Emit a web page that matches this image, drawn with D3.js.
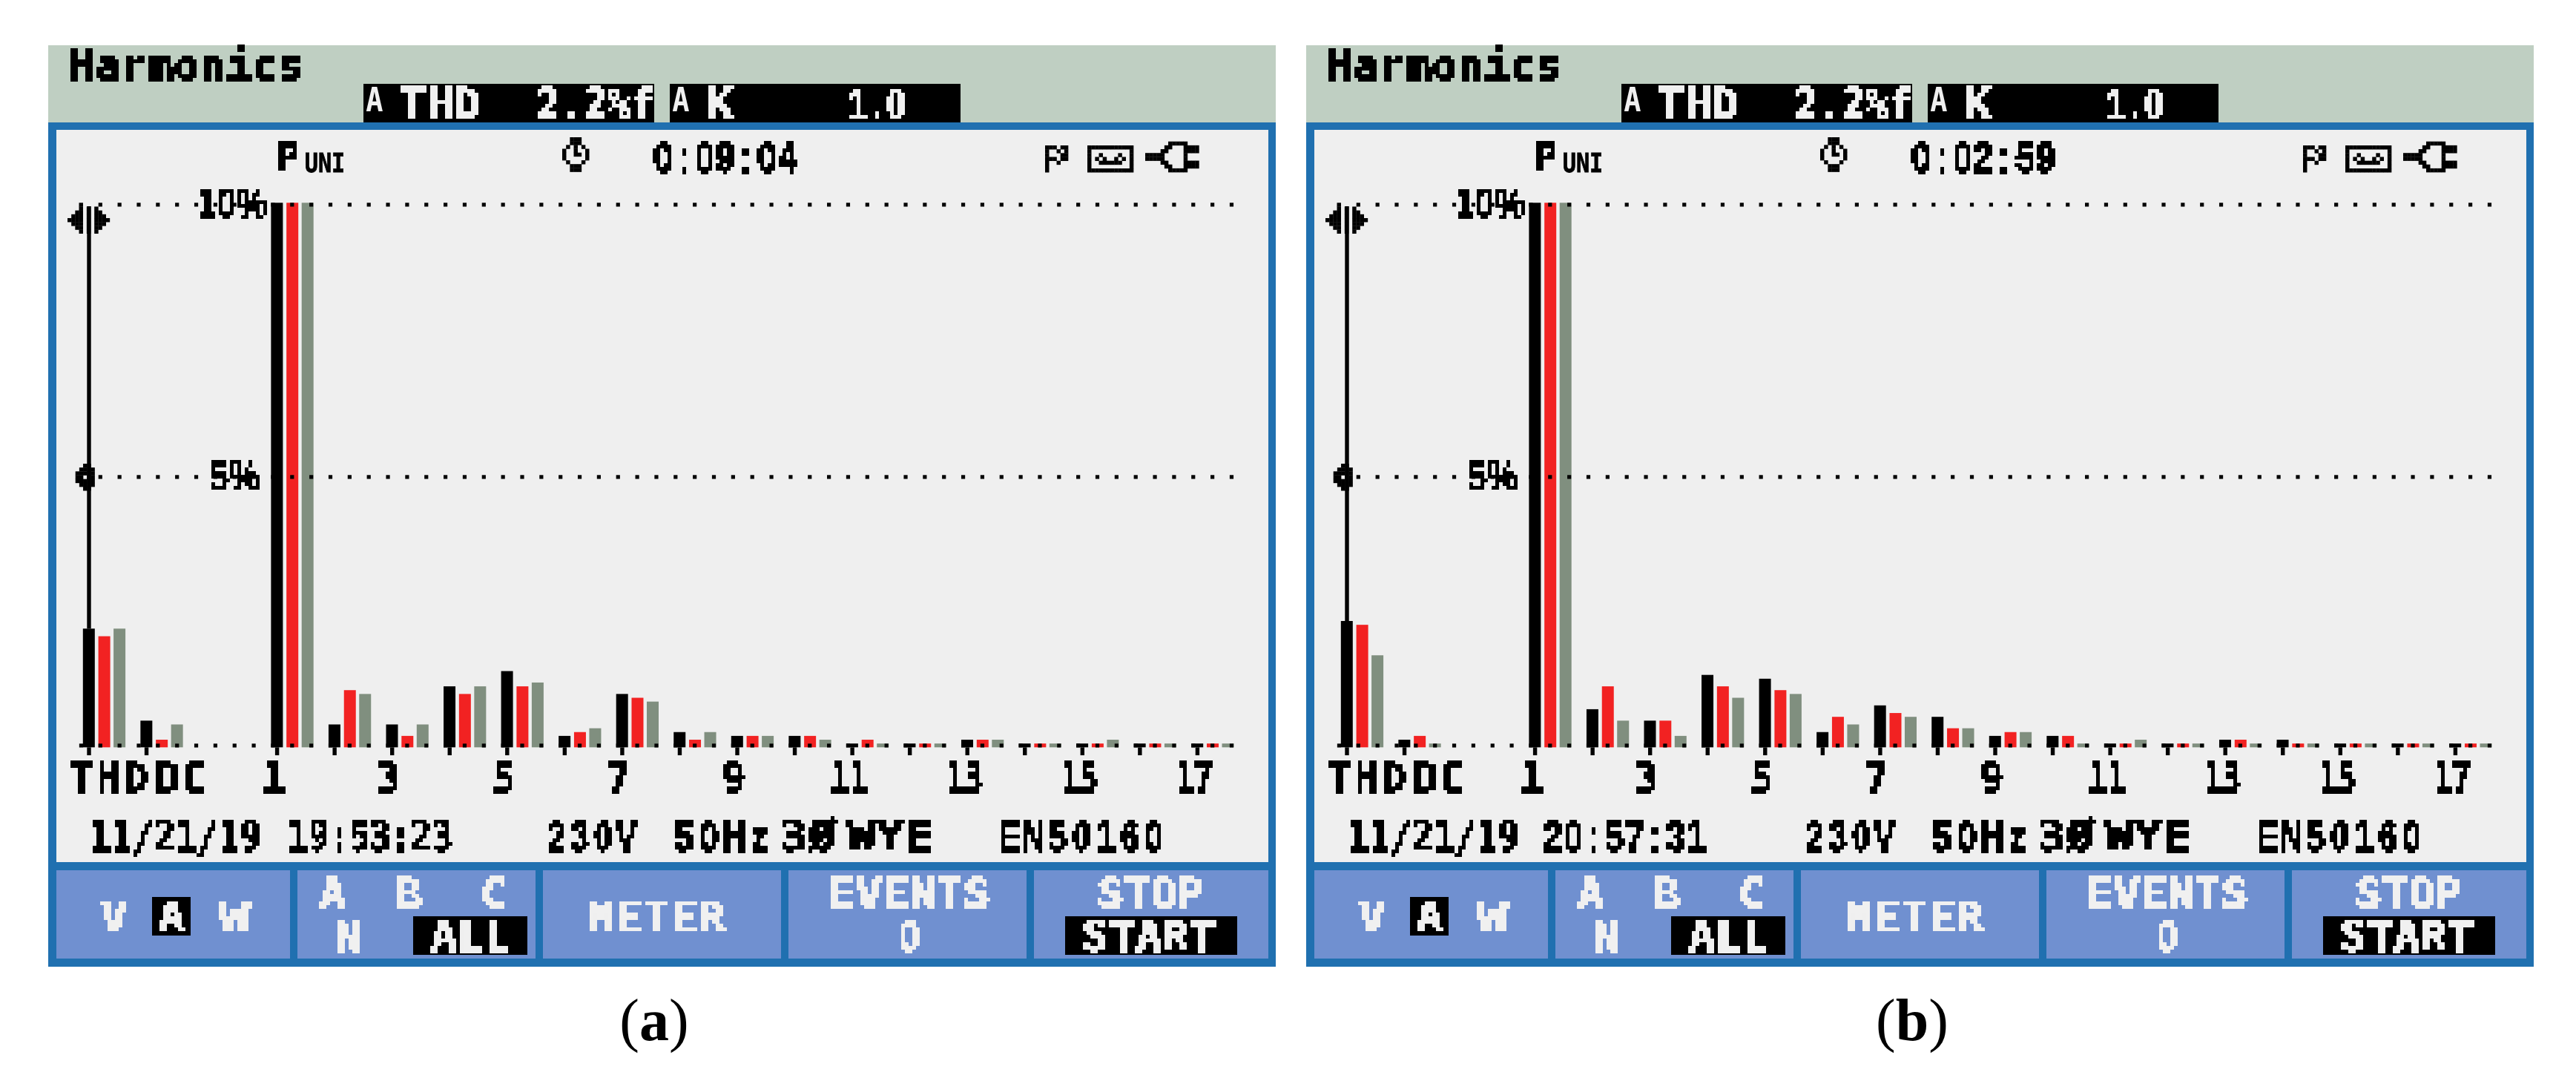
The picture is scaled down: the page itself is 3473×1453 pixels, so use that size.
<!DOCTYPE html>
<html><head><meta charset="utf-8">
<script src="https://cdn.jsdelivr.net/npm/d3@7/dist/d3.min.js"></script>
<style>html,body{margin:0;padding:0;background:#fff}svg{display:block}</style>
</head><body><svg id="c" width="3473" height="1453"></svg>
<script>
// ---------- data ----------
const categories = ["THD","DC","1","2","3","4","5","6","7","8","9","10","11","12","13","14","15","16","17"];
const tickLabelsShown = ["1","3","5","7","9","11","13","15","17"];
const gridValues = [0,5,10];
const phaseNames = ["A","B","C"];
const phaseColors = ["#000000","#F22222","#808F7F"];

const panelA_phaseA = [2.18,0.49,10,0.42,0.42,1.12,1.40,0.21,0.98,0.28,0.21,0.21,0.07,0.07,0.14,0.07,0.07,0.07,0.07];
const panelA_phaseB = [2.04,0.14,10,1.05,0.21,0.98,1.12,0.28,0.91,0.14,0.21,0.21,0.14,0.07,0.14,0.07,0.07,0.07,0.07];
const panelA_phaseC = [2.18,0.42,10,0.98,0.42,1.12,1.19,0.35,0.84,0.28,0.21,0.14,0.07,0.07,0.14,0.07,0.14,0.07,0.07];

const panelB_phaseA = [2.32,0.14,10,0.70,0.49,1.33,1.26,0.28,0.77,0.56,0.21,0.21,0.07,0.07,0.14,0.14,0.07,0.07,0.07];
const panelB_phaseB = [2.25,0.21,10,1.12,0.49,1.12,1.05,0.56,0.63,0.35,0.28,0.21,0.07,0.07,0.14,0.07,0.07,0.07,0.07];
const panelB_phaseC = [1.69,0.07,10,0.49,0.21,0.91,0.98,0.42,0.56,0.35,0.28,0.07,0.14,0.07,0.07,0.07,0.07,0.07,0.07];

const panelA_time = {elapsed:"0:09:04", clock:"19:53:23", caption:"a"};
const panelB_time = {elapsed:"0:02:59", clock:"20:57:31", caption:"b"};

// ---------- bitmaps of the meter's little icons ----------
const iconCursor = ["...#.......","...#.#.#...","..##.#.##..",".###.#.###.","####.#.####",".###.#.###.","..##.#.##..","...#.#.#..."];
const iconDiamond = ["..##.",".####","#####","##.##","#####",".####","..##."];
const iconClock = ["..###..","..###..",".#.#.#.","#..#..#","#..##.#","#.....#",".#...#.","..###..","..###.."];
const iconFlag = ["###.##","#..#.#","#...##","###.##","#..#..","#.....","#....."];
const iconTape = ["############","#..........#","#..#....#..#","#.#.#..#.#.#","#..######..#","#..........#","############"];
const iconPlug = ["......#####...",".....##...####","....##....####","#####.....#...","#####.....#...","....##....####",".....##...####","......#####..."];

// ---------- scales ----------
const slot = i => i < 2 ? i : i + 1.27;         // gap between DC and the fundamental
const x = d3.scaleLinear().domain([0, slot(categories.length-1)]).range([119.5, 1613.9]);
const y = d3.scaleLinear().domain([0, 10]).range([1007.3, 273.3]).clamp(true);
const phaseOffset = d3.scaleOrdinal().domain(phaseNames).range([-7.7, 13.1, 33.6]);
const BAR_W = 16, LCD = 5.17;

const svg = d3.select("#c");
const defs = svg.append("defs");
const f = defs.append("filter").attr("id","lcd").attr("filterUnits","userSpaceOnUse")
  .attr("primitiveUnits","userSpaceOnUse")
  .attr("x",0).attr("y",0).attr("width",3473).attr("height",1453)
  .attr("color-interpolation-filters","sRGB");
f.append("feFlood").attr("x",2).attr("y",2).attr("width",1).attr("height",1).attr("flood-color","#000");
f.append("feComposite").attr("width",5).attr("height",5);
f.append("feTile").attr("result","grid");
f.append("feComposite").attr("in","SourceGraphic").attr("in2","grid").attr("operator","in");
f.append("feMorphology").attr("operator","dilate").attr("radius",2);
f.append("feComponentTransfer").append("feFuncA").attr("type","discrete").attr("tableValues","0 1");

// Text fitted to a measured box. Strings holding a zero use a plain-zero face,
// placed glyph by glyph on the meter's fixed character cells.
function fit(g, txt, x0, x1, top, bottom, fill, weight, proportional){
  const n = txt.length, adv = (x1-x0)/(n-0.14);
  const fs = (bottom-top)/0.729;
  const col = fill||"#000";
  const sw = weight===undefined?1.8:weight;
  const el = g.append("text").text(txt).attr("font-weight","bold").attr("fill",col)
    .attr("stroke",col).attr("stroke-width",sw);
  if(proportional){
    el.attr("x",x0).attr("y",bottom).attr("font-family","'Liberation Sans'")
      .attr("font-size",(bottom-top)/0.716)
      .attr("textLength",x1-x0).attr("lengthAdjust","spacingAndGlyphs");
  } else if(txt.includes("0")){
    const fz = (bottom-top)/0.716;
    const hasLetters = /[A-Za-z]/.test(txt);
    const sx = Math.min(1, adv/(0.58*fz)) * (hasLetters ? 0.8 : 1);
    const start = x0-adv*0.07;
    el.attr("font-family","'Liberation Sans'").attr("font-size",fz)
      .attr("text-anchor","middle")
      .attr("transform",`translate(${start},${bottom}) scale(${sx},1)`)
      .attr("x",d3.range(n).map(i=>((i+0.5)*adv/sx).toFixed(2)).join(" ")).attr("y",0);
  } else {
    el.attr("x",x0-adv*0.07).attr("y",bottom).attr("font-family","'DejaVu Sans Mono'")
      .attr("font-size",fs)
      .attr("textLength",adv*n).attr("lengthAdjust","spacingAndGlyphs");
  }
  return el;
}
function bitmap(g, rows, x0, y0, fill){
  rows.forEach((r,j)=>[...r].forEach((c,i)=>{
    if(c==="#") g.append("rect").attr("x",x0+i*LCD).attr("y",y0+j*LCD)
      .attr("width",LCD+0.3).attr("height",LCD+0.3).attr("fill",fill||"#000");
  }));
}
function box(g,x0,y0,x1,y1,fill){
  return g.append("rect").attr("x",x0).attr("y",y0).attr("width",x1-x0).attr("height",y1-y0).attr("fill",fill);
}

function drawPanel(dx, seriesA, seriesB, seriesC, info){
  const g = svg.append("g").attr("transform",`translate(${dx},0)`);
  const series = [seriesA, seriesB, seriesC];
  // frame
  box(g,65,61,1720,165,"#BFCFC2");
  box(g,65,165,1720,1303,"#2070B0");
  box(g,76,175,1710,1162,"#EFEFEF");
  [[76,391],[401,722],[732,1053],[1063,1384],[1394,1710]].forEach(b=>box(g,b[0],1173,b[1],1292,"#7090D0"));
  box(g,490,113,882,165,"#000");
  box(g,903,113,1295,165,"#000");
  box(g,205,1209,257,1261,"#000");
  box(g,557,1235,711,1287,"#000");
  box(g,1436,1235,1668,1287,"#000");

  // bars
  phaseNames.forEach((p,k)=>{
    g.append("g").selectAll("rect").data(series[k]).join("rect")
      .attr("x",(d,i)=>x(slot(i))+phaseOffset(p))
      .attr("y",d=>y(d)).attr("width",BAR_W)
      .attr("height",d=>y(0)-y(d)).attr("fill",phaseColors[k]);
  });

  // cursor
  box(g,117.3,278,122.7,y(series[0][0]),"#000");
  bitmap(g,iconCursor,91,273.3);
  bitmap(g,iconDiamond,101.7,625);

  // dotted grid
  const spacing = (x(slot(1))-x(slot(0)))/3;
  const dotXs = d3.range(-1,60).map(k=>135.3+k*spacing).filter(v=>v<1665);
  gridValues.forEach(v=>{
    const xs = v===0 ? dotXs : dotXs.filter(d=>d>130);
    g.append("g").selectAll("rect").data(xs).join("rect")
      .attr("x",d=>d-2.6).attr("y",y(Math.max(v,0.068))).attr("width",5.2).attr("height",5.2).attr("fill","#000");
  });

  // ticks
  const axis = d3.axisBottom(x).tickValues(categories.map((c,i)=>slot(i))).tickSize(10.7).tickFormat("").tickSizeOuter(0);
  const ax = g.append("g").attr("transform",`translate(0,${y(0)})`).call(axis);
  ax.select(".domain").remove();
  ax.selectAll("line").attr("stroke","#000").attr("stroke-width",5.4);

  // icons
  bitmap(g,iconClock,758,185);
  bitmap(g,iconFlag,1409,196);
  bitmap(g,iconTape,1466,196);
  bitmap(g,iconPlug,1544,190.7);

  // text
  const t = g.append("g").attr("filter","url(#lcd)");
  const L = "#F0F0F0";
  fit(t,"Harmonics",96,407,67,108);
  fit(t,"THD",541,646,118,160,L);
  fit(t,"2.2%f",726,880,118,160,L);
  fit(t,"K",954,987,118,160,L);
  fit(t,"1.0",1146,1219,118,160,L);
  fit(t,"P",375,401,191,232);
  fit(t,info.elapsed,882,1074,191,232);
  fit(t,"10%",267,360,253,294,"#000",2,true);
  fit(t,"5%",282,350,620,661,"#000",2,true);
  fit(t,"THD",96.5,197.5,1028,1069,"#000",1);
  fit(t,"DC",210,278,1028,1069);
  tickLabelsShown.forEach(l=>{
    const cx = x(slot(categories.indexOf(l)))-4;
    const w = l.length===1 ? 27 : 47;
    fit(t,l,cx-w/2,cx+w/2,1028,1069);
  });
  fit(t,"11/21/19",122.5,350.6,1106,1147);
  fit(t,info.clock,info.caption==="a"?390:386,info.caption==="a"?608:603,1106,1147);
  fit(t,"230V",737,858,1106,1147);
  fit(t,"50Hz",908,1038,1106,1147);
  fit(t,"3Ø",1053,1126,1106,1147);
  fit(t,"WYE",1145,1255,1106,1147);
  fit(t,"EN50160",1347,1570,1106,1147);
  fit(t,"V",138,169,1214,1256,L);
  fit(t,"A",215,247,1214,1256,L);
  fit(t,"W",298,335,1214,1256,L);
  fit(t,"A",433,464,1183,1225,L);
  fit(t,"B",536,567,1183,1225,L);
  fit(t,"C",650,681,1183,1225,L);
  fit(t,"N",453.6,485,1240,1282,L);
  fit(t,"ALL",583,686,1240,1282,L);
  fit(t,"METER",794,975.5,1214,1256,L);
  fit(t,"EVENTS",1119,1333,1183,1225,L);
  fit(t,"0",1213,1239,1240,1282,L);
  fit(t,"STOP",1482,1621,1183,1225,L);
  fit(t,"START",1461,1637,1240,1282,L);

  // small unfiltered glyphs
  fit(g,"A",495,515,118,150,L,0);
  fit(g,"A",908,928,118,150,L,0);
  fit(g,"UNI",412,464,206,232,"#000",0.8);

  // caption
  const cap = g.append("text").attr("x",882).attr("y",1402).attr("text-anchor","middle")
    .attr("font-family","'Liberation Serif'").attr("font-size",80).attr("fill","#000");
  cap.append("tspan").text("(");
  cap.append("tspan").attr("font-weight","bold").text(info.caption);
  cap.append("tspan").text(")");
}

drawPanel(0, panelA_phaseA, panelA_phaseB, panelA_phaseC, panelA_time);
drawPanel(1696, panelB_phaseA, panelB_phaseB, panelB_phaseC, panelB_time);
</script></body></html>
